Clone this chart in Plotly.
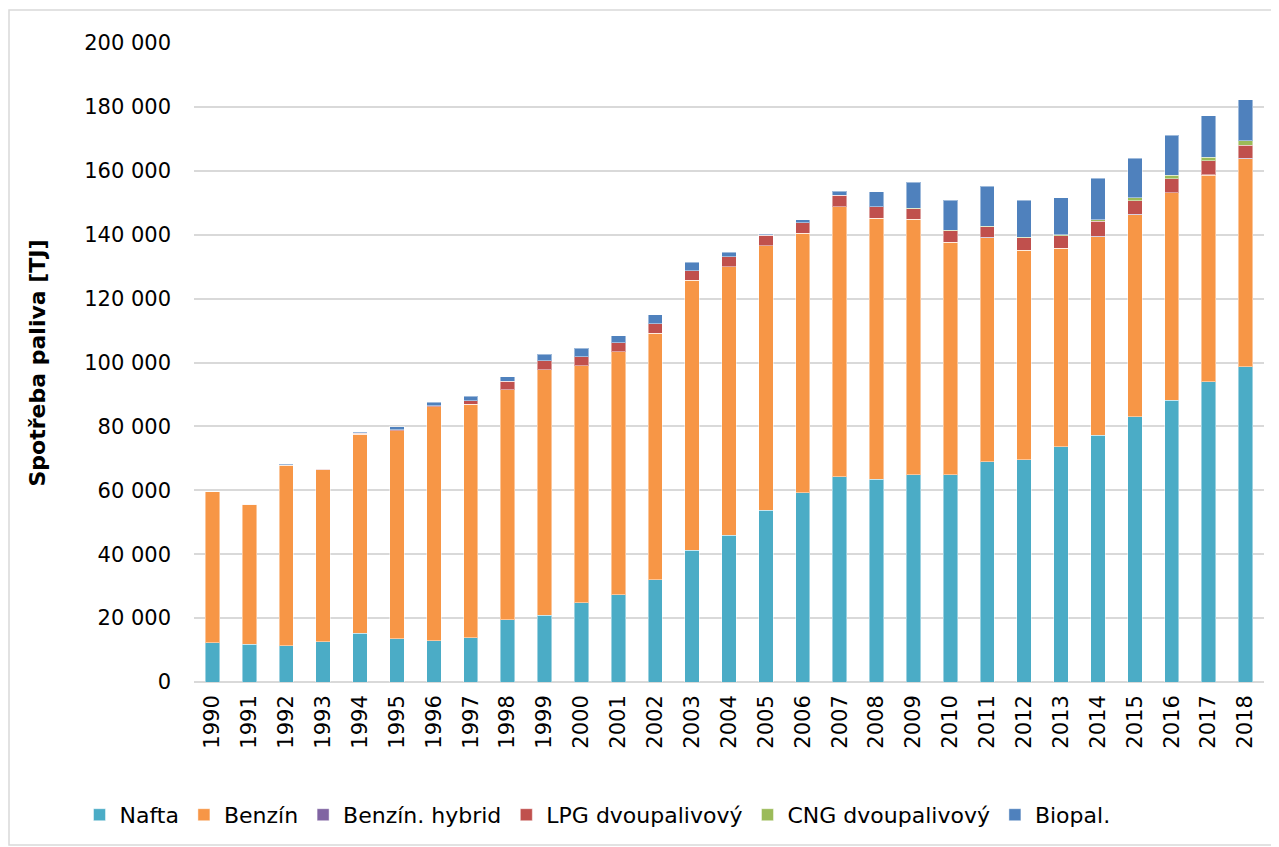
import plotly.graph_objects as go

years = [str(y) for y in range(1990, 2019)]

# values in TJ
nafta = [12300, 11800, 11300, 12600, 15300, 13600, 12900, 13900, 19500, 20900,
         24800, 27300, 32000, 41300, 46000, 53800, 59200, 64200, 63500, 64800,
         64800, 68900, 69500, 73600, 77300, 83000, 88200, 94000, 98600]
benzin = [47200, 43900, 56500, 53800, 62300, 65000, 73200, 73100, 71900, 76800,
          74200, 76000, 77200, 84500, 84000, 82800, 81200, 84500, 81600, 80000,
          72800, 70200, 65600, 62100, 62100, 63300, 64900, 64600, 65200]
benzin_hybrid = [0, 0, 0, 0, 0, 0, 0, 0, 0, 0,
                 0, 0, 0, 0, 0, 0, 10, 20, 20, 30,
                 30, 40, 40, 50, 60, 70, 80, 90, 100]
lpg = [0, 0, 200, 200, 200, 300, 300, 1000, 2800, 2900,
       2800, 2900, 2900, 2900, 3100, 3300, 3400, 3600, 3600, 3300,
       3600, 3300, 3900, 4000, 4700, 4300, 4400, 4400, 4100]
cng = [0, 0, 0, 0, 0, 0, 0, 0, 0, 0,
       0, 0, 0, 0, 0, 0, 0, 50, 100, 200,
       200, 200, 200, 200, 500, 900, 1100, 1200, 1400]
biopal = [0, 0, 200, 200, 400, 1000, 1200, 1500, 1300, 2000,
          2700, 2100, 2800, 2700, 1400, 200, 800, 1300, 4700, 8100,
          9300, 12500, 11500, 11600, 13000, 12300, 12400, 13000, 12800]

series_names = ["Nafta", "Benzín", "Benzín. hybrid", "LPG dvoupalivový", "CNG dvoupalivový", "Biopal."]
series_values = [nafta, benzin, benzin_hybrid, lpg, cng, biopal]
colors = ["#4BACC6", "#F79646", "#8064A2", "#C0504D", "#9BBB59", "#4F81BD"]

y_tickvals = [0, 20000, 40000, 60000, 80000, 100000, 120000, 140000, 160000, 180000, 200000]
y_ticktext = ["0", "20 000", "40 000", "60 000", "80 000", "100 000", "120 000",
              "140 000", "160 000", "180 000", "200 000"]

FONT = "DejaVu Sans"

fig = go.Figure()
for name, vals, col in zip(series_names, series_values, colors):
    fig.add_trace(go.Bar(
        x=years, y=vals, name=name,
        marker=dict(color=col, line=dict(color="rgba(255,255,255,0.45)", width=1)),
    ))

fig.update_layout(
    width=1271, height=839,
    barmode="stack", bargap=0.61,
    plot_bgcolor="white", paper_bgcolor="white",
    margin=dict(l=186, r=15, t=35, b=165, autoexpand=False),
    font=dict(family=FONT, size=21, color="#000000"),
    showlegend=True,
    legend=dict(orientation="h", x=-0.107, xanchor="left", y=-0.208, yanchor="middle",
                font=dict(family=FONT, size=22, color="#000000"),
                itemwidth=30, traceorder="normal", itemclick=False),
    xaxis=dict(type="category", tickangle=-90, showgrid=False, ticks="",
               tickfont=dict(family=FONT, size=21), showline=False,
               ticklabelstandoff=8),
    yaxis=dict(range=[0, 200000], tickvals=y_tickvals, ticktext=y_ticktext,
               showgrid=True, gridcolor="#D9D9D9", gridwidth=1.5,
               zeroline=True, zerolinecolor="#D9D9D9", zerolinewidth=1.5,
               showline=False, ticks="", ticklabelstandoff=22,
               tickfont=dict(family=FONT, size=21)),
    shapes=[dict(type="rect", xref="paper", yref="paper",
                 x0=-0.1729, x1=1.0103, y0=-0.2551, y1=1.0516,
                 line=dict(color="#D9D9D9", width=1.5), layer="below")],
    annotations=[dict(text="<b>Spotřeba paliva [TJ]</b>", xref="paper", yref="paper",
                      x=-0.1458, y=0.5, textangle=-90, showarrow=False,
                      font=dict(family=FONT, size=22, color="#000000"),
                      xanchor="center", yanchor="middle")],
)

fig.write_html("out.html")
